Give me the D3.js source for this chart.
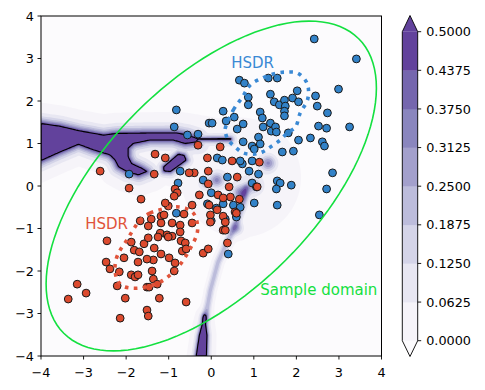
<!DOCTYPE html>
<html>
<head>
<meta charset="utf-8">
<script src="https://cdn.jsdelivr.net/npm/d3@7"></script>
<style>
  body { margin: 0; background: #fff; }
  svg { display: block; font-family: "DejaVu Sans", sans-serif; }
</style>
</head>
<body>
<script>
// ---- data ----
var levels = [0, 0.0625, 0.125, 0.1875, 0.25, 0.3125, 0.375, 0.4375, 0.5];
var xTicks = [-4, -3, -2, -1, 0, 1, 2, 3, 4];
var yTicks = [-4, -3, -2, -1, 0, 1, 2, 3, 4];

var blueX = [2.42,3.41,2.99,2.02,1.91,2.05,2.45,2.49,2.73,3.25,2.52,2.71,2.05,2.33,2.61,2.66,1.93,2.85,2.71,1.88,2.54,
  0.66,0.78,1.34,1.55,0.87,0.87,1.39,1.48,1.60,1.72,1.74,1.72,1.72,0.28,1.15,1.20,0.35,0.54,-0.05,0.02,0.75,1.39,1.22,0.61,1.41,1.51,1.53,1.81,
  -0.82,-0.87,-0.56,-0.31,-1.93,
  1.11,0.75,0.96,1.15,1.01,1.67,0.96,0.73,0.89,1.11,0.96,1.55,1.62,1.53,
  -0.73,-0.78,-0.19,0.0,0.14,0.26,0.68,0.38,
  -0.09,0.12,0.0,0.33,0.40,0.28,0.52,0.68,1.01,-0.82,0.59,1.06,1.55];
var blueY = [3.46,2.99,2.28,2.24,2.07,1.98,2.12,1.88,1.72,1.39,1.41,1.36,1.08,1.13,1.04,0.94,0.82,0.31,-0.07,0.02,-0.68,
  2.49,2.42,2.54,2.54,2.09,1.91,2.16,1.98,1.91,2.02,1.88,1.76,1.65,1.76,1.74,1.60,1.53,1.62,1.48,1.48,1.46,1.48,1.39,1.34,1.29,1.39,1.27,1.25,
  1.79,1.39,1.20,1.22,0.28,
  1.15,1.04,0.94,0.99,0.87,0.80,0.59,0.52,0.35,0.28,0.07,0.12,0.07,-0.07,
  0.35,0.07,0.14,-0.16,0.66,0.61,0.59,0.21,
  -0.42,-0.52,-0.82,-0.78,-1.60,-0.42,-0.45,-0.5,-0.40,-0.64,-0.73,-0.02,-0.45];

var redX = [-1.32,-1.08,-2.61,-1.34,-1.93,-1.65,-1.01,-0.31,0.21,-0.09,0.49,-0.40,-0.07,-0.07,-0.85,-0.80,-0.87,-1.08,-0.28,-1.18,
  -1.11,-1.67,-1.41,-0.64,-0.45,-0.45,-1.18,-0.92,-0.73,-1.48,-1.20,-1.25,-1.04,-0.92,-0.73,-0.71,-2.45,-1.88,-1.58,-1.48,
  -1.01,-0.61,-0.68,-0.59,-1.81,-1.69,-1.34,-1.18,-0.99,-0.19,-0.07,-2.05,-1.72,-1.36,-1.51,-2.47,-0.85,-2.38,-2.16,-1.88,
  -1.79,-1.72,-1.39,-0.87,-1.36,-1.27,-2.21,-1.51,-1.46,-3.15,-2.94,-3.36,-2.02,-1.22,-0.59,-1.51,-1.48,-2.14,0.16,0.45,
  0.56,0.28,0.33,0.38,-0.52,0.61,0.42,0.28,0.66,-0.05,-0.02,0.14,0.28,0.59,-0.02,0.33,1.13,1.08];
var redY = [0.75,0.66,0.35,0.28,-0.05,-0.31,-0.47,0.96,0.92,0.66,0.59,0.31,0.35,0.05,-0.07,-0.16,-0.24,-0.40,-0.21,-0.71,
  -0.68,-0.82,-0.78,-0.66,-0.45,-0.87,-0.87,-0.87,-0.92,-0.94,-1.11,-1.20,-1.15,-1.18,-1.08,-1.29,-1.29,-1.32,-1.36,-1.22,
  -1.20,-1.34,-1.53,-1.48,-1.51,-1.55,-1.46,-1.60,-1.69,-1.58,-1.48,-1.69,-1.79,-1.74,-1.72,-1.79,-1.81,-1.95,-2.02,-2.09,
  -2.14,-2.09,-2.00,-2.00,-2.19,-2.31,-2.35,-2.38,-2.38,-2.31,-2.52,-2.66,-2.64,-2.64,-2.73,-2.92,-3.06,-3.11,-0.21,-0.26,
  -0.61,-1.04,-1.04,-1.34,0.31,0.21,-0.02,-0.28,-0.31,-0.45,-0.68,-0.56,-0.71,-0.64,-0.85,-0.85,0.56,-0.02];

// HSDR contours (traced)
var hsdrBlueX = [0.33,0.52,0.73,0.92,1.20,1.55,1.79,2.02,2.21,2.28,2.26,2.09,1.98,1.79,1.62,1.39,1.20,0.99,0.75,0.56,0.40,0.33];
var hsdrBlueY = [1.36,1.79,2.09,2.38,2.54,2.66,2.68,2.66,2.49,2.31,2.02,1.72,1.39,1.25,1.08,0.92,0.80,0.75,0.78,0.92,1.08,1.27];
var hsdrRedX = [-1.67,-1.44,-1.20,-0.89,-0.61,-0.42,-0.33,-0.33,-0.45,-0.61,-0.78,-0.96,-1.20,-1.44,-1.67,-1.91,-2.09,-2.21,-2.26,-2.24,-2.14,-1.98,-1.84];
var hsdrRedY = [-0.80,-0.64,-0.56,-0.49,-0.52,-0.64,-0.87,-1.11,-1.39,-1.67,-1.91,-2.09,-2.26,-2.35,-2.40,-2.40,-2.35,-2.21,-1.98,-1.74,-1.51,-1.27,-1.04];

// sample domain ellipse
var domainCenter = [0, 0];
var domainAxes = [4.9, 2.47];
var domainAngle = 45;

// density field shapes
var bandX = [-4.26,-3.56,-3.09,-2.53,-2.22,-1.44,-0.81,-0.57,-0.34,-0.34,-0.61,-0.89,-1.44,-1.83,-1.95,-1.95,-1.87,-1.63,-1.51,-1.71,-1.98,-2.18,-2.26,-2.38,-2.77,-3.12,-3.55,-4.26];
var bandY = [1.51,1.41,1.30,1.20,1.24,1.25,1.25,1.20,1.12,1.04,1.00,1.08,1.08,1.00,0.89,0.69,0.53,0.42,0.34,0.26,0.34,0.45,0.61,0.73,0.85,0.98,0.80,0.48];
var blobX = [-1.12,-0.77,-0.64,-0.59,-0.96,-1.11];
var blobY = [0.45,0.75,0.72,0.61,0.34,0.35];
var wedgeX = [-0.40,-0.28,-0.16,-0.10,-0.12];
var wedgeY = [-4.3,-3.51,-3.06,-3.51,-4.3];
var tongueX = [-0.36, 0.45];
var tongueY = [1.1, 1.1];
var streakX = [-0.14,-0.02,0.16,0.40,0.59,0.73,0.82];
var streakY = [-3.11,-2.45,-1.79,-1.27,-0.85,-0.45,-0.05];
var spotX = [0.13,0.68,1.34,1.0,0.60,-0.15,0.7];
var spotY = [0.14,-0.16,0.54,0.0,-1.0,0.05,0.2];
var spotAmp = [0.3,0.3,0.3,0.2,0.22,0.15,0.07];
var spotSigma = [0.11,0.11,0.12,0.12,0.1,0.1,0.75];

// ---- layout ----
var W = 485, H = 390;
var x = d3.scaleLinear().domain([-4, 4]).range([41, 381.5]);
var y = d3.scaleLinear().domain([-4, 4]).range([356, 16]);

var blueC = "#3282c8", redC = "#dc4a2e";
var blueL = "#3a89d4", redL = "#e0533a";
var green = "#14e040";

var svg = d3.select("body").append("svg").attr("width", W).attr("height", H);

svg.append("clipPath").attr("id", "plotclip")
  .append("rect").attr("x", 41).attr("y", 16).attr("width", 340.5).attr("height", 340);

function zip(a, b) { return a.map(function(v, i) { return [v, b[i]]; }); }

// ---- density field (filled contours) ----
function segDist(px, py, ax, ay, bx, by) {
  var dx = bx - ax, dy = by - ay;
  var t = ((px - ax) * dx + (py - ay) * dy) / (dx * dx + dy * dy);
  t = Math.max(0, Math.min(1, t));
  var ex = ax + t * dx - px, ey = ay + t * dy - py;
  return Math.sqrt(ex * ex + ey * ey);
}
function lineDist(pts, px, py, closed) {
  var d = Infinity, m = pts.length;
  for (var k = 0; k < m - (closed ? 0 : 1); k++) {
    var a = pts[k], b = pts[(k + 1) % m];
    d = Math.min(d, segDist(px, py, a[0], a[1], b[0], b[1]));
  }
  return d;
}
function polyTerm(poly, px, py, lam) {
  var d = lineDist(poly, px, py, true);
  if (d3.polygonContains(poly, [px, py])) return 0.5 + 0.5 * (1 - Math.exp(-d / lam));
  return 0.5 * Math.exp(-d / lam);
}

var bandPoly = zip(bandX, bandY), blobPoly = zip(blobX, blobY), wedgePoly = zip(wedgeX, wedgeY);
var tonguePts = zip(tongueX, tongueY), streakPts = zip(streakX, streakY);

function field(px, py) {
  var v = Math.max(
    polyTerm(bandPoly, px, py, 0.13),
    polyTerm(blobPoly, px, py, 0.08),
    polyTerm(wedgePoly, px, py, 0.06),
    0.6 * Math.exp(-lineDist(tonguePts, px, py, false) / 0.06)
  );
  var ds = lineDist(streakPts, px, py, false);
  v += 0.24 * Math.exp(-(ds / 0.09) * (ds / 0.09));
  for (var k = 0; k < spotX.length; k++) {
    var dx = px - spotX[k], dy = py - spotY[k];
    v += spotAmp[k] * Math.exp(-(dx * dx + dy * dy) / (2 * spotSigma[k] * spotSigma[k]));
  }
  return v - 0.012;
}

var n = 220, step = 8 / n;
var values = new Float64Array(n * n);
for (var j = 0; j < n; j++) {
  for (var i = 0; i < n; i++) {
    values[j * n + i] = field(-4 + (i + 0.5) * step, -4 + (j + 0.5) * step);
  }
}
var contours = d3.contours().size([n, n]).thresholds(levels)(values);
var gridPath = d3.geoPath(d3.geoTransform({
  point: function(px, py) { this.stream.point(x(-4 + px * step), y(-4 + py * step)); }
}));

var bandT = [0.06, 0.165, 0.27, 0.375, 0.48, 0.585, 0.69, 0.795];
var underColor = d3.interpolatePurples(0);
var bandColors = bandT.map(function(t) { return d3.interpolatePurples(t); });
var overColor = bandColors[bandColors.length - 1];
var fillColors = bandColors.concat([overColor]);

var plot = svg.append("g").attr("clip-path", "url(#plotclip)");
plot.append("rect").attr("x", 41).attr("y", 16).attr("width", 340.5).attr("height", 340)
  .attr("fill", underColor);
plot.selectAll("path.lvl").data(contours).enter().append("path")
  .attr("class", "lvl")
  .attr("d", gridPath)
  .attr("fill", function(d, i) { return fillColors[i]; });
plot.append("path").datum(contours[contours.length - 1])
  .attr("d", gridPath).attr("fill", "none").attr("stroke", "#000").attr("stroke-width", 1.1);

// ---- scatter ----
function dots(xs, ys, col) {
  plot.append("g").selectAll("circle").data(zip(xs, ys)).enter().append("circle")
    .attr("cx", function(d) { return x(d[0]); })
    .attr("cy", function(d) { return y(d[1]); })
    .attr("r", 3.9)
    .attr("fill", col)
    .attr("stroke", "#1a1a1a")
    .attr("stroke-width", 1);
}
dots(blueX, blueY, blueC);
dots(redX, redY, redC);

// ---- sample domain ellipse ----
var th = domainAngle * Math.PI / 180;
var ellPts = d3.range(0, 361, 3).map(function(deg) {
  var t = deg * Math.PI / 180;
  var u = domainAxes[0] * Math.cos(t), v = domainAxes[1] * Math.sin(t);
  return [domainCenter[0] + u * Math.cos(th) - v * Math.sin(th),
          domainCenter[1] + u * Math.sin(th) + v * Math.cos(th)];
});
var line = d3.line().x(function(d) { return x(d[0]); }).y(function(d) { return y(d[1]); });
plot.append("path").attr("d", line(ellPts)).attr("fill", "none")
  .attr("stroke", green).attr("stroke-width", 1.6);

// ---- HSDR contours ----
var closedLine = d3.line().curve(d3.curveCatmullRomClosed)
  .x(function(d) { return x(d[0]); }).y(function(d) { return y(d[1]); });
plot.append("path").attr("d", closedLine(zip(hsdrBlueX, hsdrBlueY))).attr("fill", "none")
  .attr("stroke", blueL).attr("stroke-width", 3.6).attr("stroke-dasharray", "3.6,5.4");
plot.append("path").attr("d", closedLine(zip(hsdrRedX, hsdrRedY))).attr("fill", "none")
  .attr("stroke", redL).attr("stroke-width", 3.6).attr("stroke-dasharray", "3.6,5.4");

// ---- labels ----
svg.append("text").attr("x", x(0.47)).attr("y", y(2.78)).attr("fill", blueL)
  .attr("font-size", 15).text("HSDR");
svg.append("text").attr("x", x(-2.96)).attr("y", y(-1.01)).attr("fill", redL)
  .attr("font-size", 15).text("HSDR");
svg.append("text").attr("x", x(1.15)).attr("y", y(-2.56)).attr("fill", green)
  .attr("font-size", 15).text("Sample domain");

// ---- axes ----
var fs = 12.8;
var xAxis = svg.append("g").attr("transform", "translate(0,356)");
xAxis.selectAll("line").data(xTicks).enter().append("line")
  .attr("x1", x).attr("x2", x).attr("y1", 0).attr("y2", 3.5)
  .attr("stroke", "#000").attr("stroke-width", 0.9);
xAxis.selectAll("text").data(xTicks).enter().append("text")
  .attr("x", x).attr("y", 21).attr("text-anchor", "middle").attr("font-size", fs)
  .text(d3.format("d"));

var yAxis = svg.append("g").attr("transform", "translate(41,0)");
yAxis.selectAll("line").data(yTicks).enter().append("line")
  .attr("y1", y).attr("y2", y).attr("x1", 0).attr("x2", -3.5)
  .attr("stroke", "#000").attr("stroke-width", 0.9);
yAxis.selectAll("text").data(yTicks).enter().append("text")
  .attr("x", -7).attr("y", function(d) { return y(d) + 4.6; })
  .attr("text-anchor", "end").attr("font-size", fs)
  .text(d3.format("d"));

svg.append("rect").attr("x", 41).attr("y", 16).attr("width", 340.5).attr("height", 340)
  .attr("fill", "none").attr("stroke", "#000").attr("stroke-width", 1);

// ---- colorbar ----
var cbL = 402.3, cbR = 417.7, cbTop = 31.7, cbBot = 340.7, cbTipT = 15.5, cbTipB = 356.5;
var cy = d3.scaleLinear().domain([0, 0.5]).range([cbBot, cbTop]);
var cb = svg.append("g");
cb.selectAll("rect").data(d3.range(levels.length - 1)).enter().append("rect")
  .attr("x", cbL).attr("width", cbR - cbL)
  .attr("y", function(i) { return cy(levels[i + 1]); })
  .attr("height", function(i) { return cy(levels[i]) - cy(levels[i + 1]) + 0.3; })
  .attr("fill", function(i) { return bandColors[i]; });
cb.append("path").attr("d", "M" + cbL + "," + cbTop + "L" + ((cbL + cbR) / 2) + "," + cbTipT + "L" + cbR + "," + cbTop + "Z")
  .attr("fill", overColor);
cb.append("path").attr("d", "M" + cbL + "," + cbBot + "L" + ((cbL + cbR) / 2) + "," + cbTipB + "L" + cbR + "," + cbBot + "Z")
  .attr("fill", underColor);
cb.append("path")
  .attr("d", "M" + cbL + "," + cbTop + "L" + ((cbL + cbR) / 2) + "," + cbTipT + "L" + cbR + "," + cbTop +
    "L" + cbR + "," + cbBot + "L" + ((cbL + cbR) / 2) + "," + cbTipB + "L" + cbL + "," + cbBot + "Z")
  .attr("fill", "none").attr("stroke", "#000").attr("stroke-width", 0.9);
cb.selectAll("line.tk").data(levels).enter().append("line").attr("class", "tk")
  .attr("x1", cbR).attr("x2", cbR + 3.5)
  .attr("y1", cy).attr("y2", cy)
  .attr("stroke", "#000").attr("stroke-width", 0.9);
cb.selectAll("text").data(levels).enter().append("text")
  .attr("x", cbR + 8.5).attr("y", function(d) { return cy(d) + 4.6; })
  .attr("font-size", fs)
  .text(d3.format(".4f"));
</script>
</body>
</html>
